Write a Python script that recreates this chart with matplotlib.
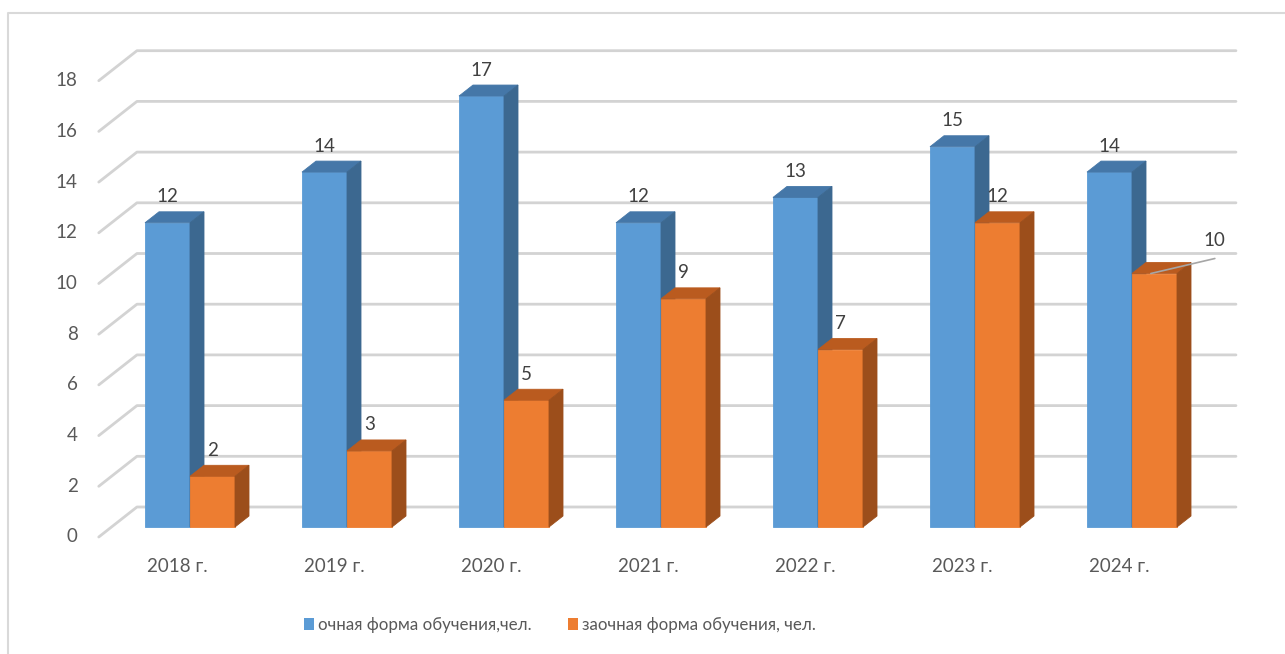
"""
Excel-style 3D clustered column chart: full-time vs part-time students by year.
"""

import matplotlib.pyplot as plt
from matplotlib.patches import Polygon, Patch
from matplotlib.lines import Line2D

years = ["2018 г.", "2019 г.", "2020 г.", "2021 г.", "2022 г.", "2023 г.", "2024 г."]
full_time = [12, 14, 17, 12, 13, 15, 14]
part_time = [2, 3, 5, 9, 7, 12, 10]
series_names = ["очная форма обучения,чел.", "заочная форма обучения, чел."]
y_ticks = list(range(0, 19, 2))

# pixel geometry of the reference
W, H = 1285, 654
X0_PX, Y0_PX = 190, 527          # (x=0, y=0) on the bars' front plane
X_UNIT, Y_UNIT = 157, 25.35      # pixels per category / per value unit
DX, DY = 14 / X_UNIT, 11 / Y_UNIT  # shift per unit of depth
BAR_W = 45 / X_UNIT
T_FRONT, T_BACK = -10 / 11, 20 / 11  # wall front / back wall depth

BLUE = ("#5B9BD5", "#4577A8", "#3C6890")    # front, top, side
ORANGE = ("#ED7D31", "#BA5B1F", "#9C4E1B")
GRID = "#D3D3D3"
TICK_COLOR = "#595959"
LABEL_COLOR = "#404040"
FONT = ["Lato", "DejaVu Sans"]
plt.rcParams["font.family"] = FONT


def proj(x, y, t):
    return x + t * DX, y + t * DY


def draw_bar(ax, x0, h, colors):
    front, top, side = colors
    x1 = x0 + BAR_W
    faces = [
        ([(x0, 0, 0), (x1, 0, 0), (x1, h, 0), (x0, h, 0)], front),
        ([(x0, h, 0), (x1, h, 0), (x1, h, 1), (x0, h, 1)], top),
        ([(x1, 0, 0), (x1, 0, 1), (x1, h, 1), (x1, h, 0)], side),
    ]
    for pts, c in faces:
        ax.add_patch(Polygon([proj(*p) for p in pts], closed=True,
                             fc=c, ec=c, lw=0.6, zorder=3))


fig = plt.figure(figsize=(W / 100, H / 100), dpi=100)
ax = fig.add_axes([0, 0, 1, 1])
ax.set_xlim(-X0_PX / X_UNIT, (W - X0_PX) / X_UNIT)
ax.set_ylim(-(H - Y0_PX) / Y_UNIT, Y0_PX / Y_UNIT)
ax.axis("off")

# chart frame (only top and left edges are inside the picture)
fig.add_artist(Line2D([8 / W, 8 / W, 1], [0, 1 - 13 / H, 1 - 13 / H],
                      transform=fig.transFigure, color="#D9D9D9", lw=1.5))

# walls: side-wall slants and back-wall gridlines
x_left, x_right = -0.5, len(years) - 0.5
for v in y_ticks:
    fx, fy = proj(x_left, v, T_FRONT)
    bx, by = proj(x_left, v, T_BACK)
    rx, ry = proj(x_right, v, T_BACK)
    ax.plot([fx, bx, rx], [fy, by, ry], color=GRID, lw=2.0,
            solid_capstyle="round", zorder=1)
    ax.annotate(str(v), (fx, fy), xytext=(-21, 0), textcoords="offset pixels",
                ha="right", va="center", fontsize=13.5, color=TICK_COLOR)

# bars and value labels
for i, (a, b) in enumerate(zip(full_time, part_time)):
    draw_bar(ax, i - BAR_W, a, BLUE)
    draw_bar(ax, i, b, ORANGE)
    ax.annotate(str(a), (i - BAR_W / 2, a), xytext=(0, 26), textcoords="offset pixels",
                ha="center", va="center", fontsize=13.5, color=LABEL_COLOR, zorder=5)
    if i == len(years) - 1:
        # last label was moved aside with a leader line
        ax.annotate(str(b), (i + 0.12, b), xytext=(64, 33), textcoords="offset pixels",
                    ha="center", va="center", fontsize=13.5, color=LABEL_COLOR, zorder=5)
        ax.annotate("", (i + 0.12, b), xytext=(64, 15), textcoords="offset pixels",
                    arrowprops=dict(arrowstyle="-", color="#A6A6A6", lw=1.2,
                                    shrinkA=0, shrinkB=0), zorder=5)
    else:
        ax.annotate(str(b), (i + BAR_W / 2, b), xytext=(0, 26), textcoords="offset pixels",
                    ha="center", va="center", fontsize=13.5, color=LABEL_COLOR, zorder=5)

# category labels on the front edge of the floor
for i, year in enumerate(years):
    cx, cy = proj(i, 0, T_FRONT)
    ax.annotate(year, (cx, cy), xytext=(0, -29), textcoords="offset pixels",
                ha="center", va="center", fontsize=13.5, color=TICK_COLOR)

handles = [Patch(fc=BLUE[0], ec="none"), Patch(fc=ORANGE[0], ec="none")]
fig.legend(handles, series_names, loc="center", bbox_to_anchor=(560 / W, 1 - 625 / H),
           ncol=2, frameon=False, fontsize=12.2, handlelength=0.6, handleheight=0.65,
           handletextpad=0.25, columnspacing=2.1, labelcolor=TICK_COLOR)

fig.savefig("out.png", dpi=100)
